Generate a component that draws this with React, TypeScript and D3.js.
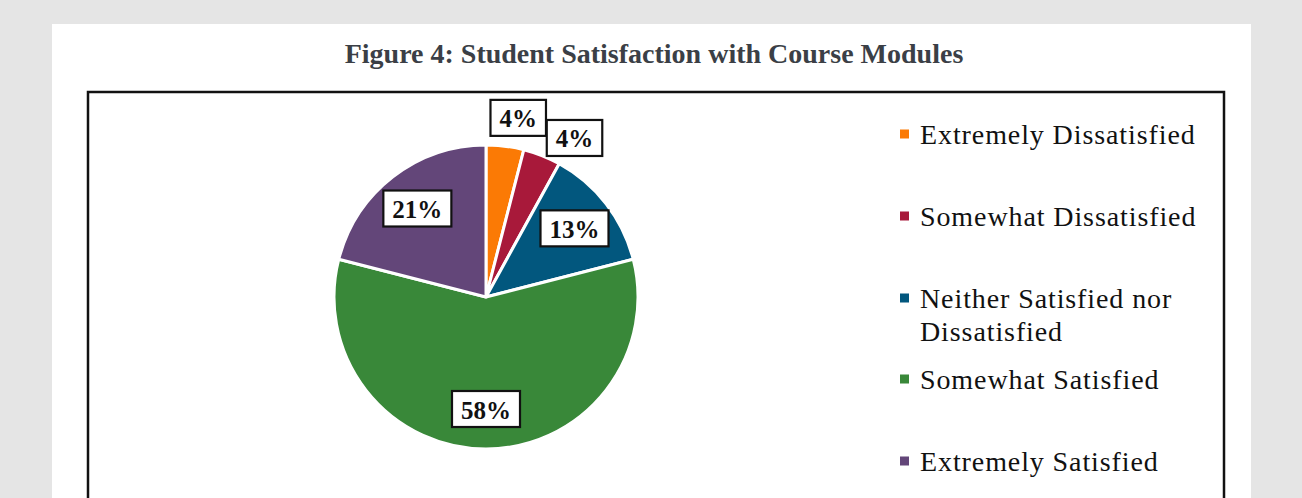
import React, { useEffect, useRef } from "react";
import * as d3 from "d3";

const title = "Figure 4: Student Satisfaction with Course Modules";
const categories = [
  "Extremely Dissatisfied",
  "Somewhat Dissatisfied",
  "Neither Satisfied nor Dissatisfied",
  "Somewhat Satisfied",
  "Extremely Satisfied",
];
const legendLines = [
  ["Extremely Dissatisfied"],
  ["Somewhat Dissatisfied"],
  ["Neither Satisfied nor", "Dissatisfied"],
  ["Somewhat Satisfied"],
  ["Extremely Satisfied"],
];
const values = [4, 4, 13, 58, 21];
const colors = ["#fb7a05", "#a8193a", "#02577e", "#398839", "#634679"];

const W = 1302;
const H = 498;

export default function App() {
  const ref = useRef<SVGSVGElement>(null);

  useEffect(() => {
    const svg = d3.select(ref.current);
    svg.selectAll("*").remove();

    svg.append("rect").attr("width", W).attr("height", H).attr("fill", "#e5e5e5");
    svg.append("rect").attr("x", 52).attr("y", 24).attr("width", 1199).attr("height", H).attr("fill", "#ffffff");
    svg.append("rect").attr("x", 88).attr("y", 92).attr("width", 1136).attr("height", H).attr("fill", "none").attr("stroke", "#111").attr("stroke-width", 2.5);

    svg.append("text")
      .attr("x", 654).attr("y", 53)
      .attr("text-anchor", "middle").attr("dominant-baseline", "central")
      .attr("font-family", "Liberation Serif").attr("font-weight", "bold").attr("font-size", 28)
      .attr("fill", "#3b3f46")
      .text(title);

    const cx = 486, cy = 297, R = 152;
    const pie = d3.pie<number>().sort(null).value((d) => d);
    const arcs = pie(values);
    const arc = d3.arc<d3.PieArcDatum<number>>().innerRadius(0).outerRadius(R);
    const g = svg.append("g").attr("transform", `translate(${cx},${cy})`);
    g.selectAll("path").data(arcs).enter().append("path")
      .attr("d", arc as any)
      .attr("fill", (_d, i) => colors[i])
      .attr("stroke", "#fff").attr("stroke-width", 3).attr("stroke-linejoin", "round");

    // labels
    const boxes: { x0: number; x1: number; y0: number; y1: number }[] = [];
    arcs.forEach((a, i) => {
      const txt = `${values[i]}%`;
      const lg = g.append("g");
      const t = lg.append("text")
        .attr("text-anchor", "middle").attr("dominant-baseline", "central")
        .attr("font-family", "Liberation Serif").attr("font-weight", "bold").attr("font-size", 25)
        .attr("fill", "#111").text(txt);
      const tw = (t.node() as SVGTextElement).getComputedTextLength();
      const bw = tw + 18, bh = 36;
      const mid = (a.startAngle + a.endAngle) / 2;
      let px: number, py: number;
      const inside = a.endAngle - a.startAngle > 0.5;
      if (inside) {
        const r = 112;
        px = Math.sin(mid) * r; py = -Math.cos(mid) * r;
      } else {
        const r = 182;
        let ang = mid + (3 * Math.PI) / 180;
        const place = (an: number) => [Math.sin(an) * r, -Math.cos(an) * r];
        [px, py] = place(ang);
        const overlaps = (x: number, y: number) =>
          boxes.some((b) => x - bw / 2 < b.x1 && x + bw / 2 > b.x0 && y - bh / 2 < b.y1 && y + bh / 2 > b.y0);
        let guard = 0;
        while (overlaps(px, py) && guard < 200) {
          ang += (0.5 * Math.PI) / 180;
          [px, py] = place(ang);
          guard++;
        }
        boxes.push({ x0: px - bw / 2, x1: px + bw / 2, y0: py - bh / 2, y1: py + bh / 2 });
      }
      lg.insert("rect", "text")
        .attr("x", px - bw / 2).attr("y", py - bh / 2)
        .attr("width", bw).attr("height", bh)
        .attr("fill", "#fff").attr("stroke", "#111").attr("stroke-width", 2.2);
      t.attr("x", px).attr("y", py + 1);
    });

    // legend
    const legendY = [134, 216, 298, 379, 461];
    const lineGap = 33;
    categories.forEach((_c, i) => {
      const y = legendY[i];
      svg.append("rect").attr("x", 900).attr("y", y - 4.5).attr("width", 9).attr("height", 9).attr("fill", colors[i]);
      legendLines[i].forEach((ln, j) => {
        svg.append("text")
          .attr("x", 920).attr("y", y + j * lineGap)
          .attr("dominant-baseline", "central")
          .attr("font-family", "Liberation Serif").attr("font-size", 28)
          .attr("letter-spacing", 0.9)
          .attr("fill", "#111").text(ln);
      });
    });
  }, []);

  return (
    <svg
      ref={ref}
      width={W}
      height={H}
      style={{ position: "absolute", left: 0, top: 0, display: "block" }}
    />
  );
}
